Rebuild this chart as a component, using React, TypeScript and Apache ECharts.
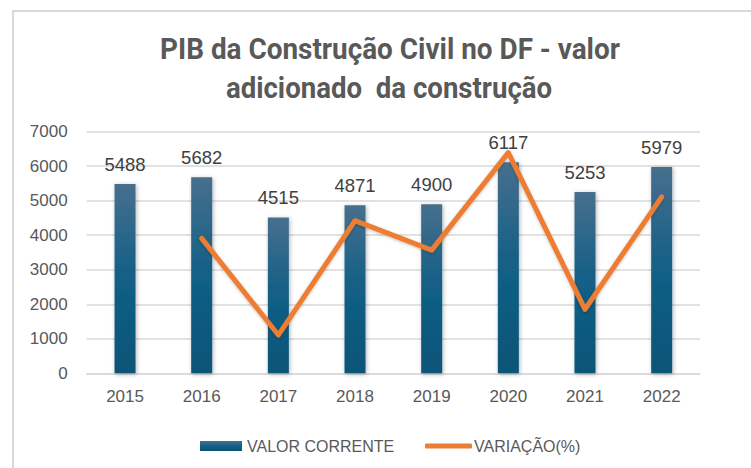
import React, { useEffect, useRef } from "react";
import * as echarts from "echarts";

const years = ["2015", "2016", "2017", "2018", "2019", "2020", "2021", "2022"];
const valorCorrente = [5488, 5682, 4515, 4871, 4900, 6117, 5253, 5979];
const variacao = [null, 3.5, -20.5, 7.9, 0.6, 24.8, -14.1, 13.8];
const titleLine1 = "PIB da Construção Civil no DF - valor";
const titleLine2 = "adicionado  da construção";

export default function App() {
  const ref = useRef<HTMLDivElement>(null);
  useEffect(() => {
    if (!ref.current) return;
    const chart = echarts.init(ref.current, undefined, { renderer: "svg" });
    const axisFont = "Liberation Sans, Arial, sans-serif";
    const titleFont = "bold 30px Roboto, sans-serif";
    chart.setOption({
      animation: false,
      backgroundColor: "#ffffff",
      graphic: [
        {
          type: "text",
          x: 390,
          y: 49,
          scaleX: 0.93,
          style: {
            text: titleLine1,
            font: titleFont,
            fill: "#595959",
            textAlign: "center",
            textVerticalAlign: "middle",
          },
        },
        {
          type: "text",
          x: 389,
          y: 88,
          scaleX: 0.92,
          style: {
            text: titleLine2,
            font: titleFont,
            fill: "#595959",
            textAlign: "center",
            textVerticalAlign: "middle",
          },
        },
      ],
      legend: [
        {
          data: [{ name: "VALOR CORRENTE", icon: "rect" }],
          left: 195,
          top: 433,
          itemWidth: 42,
          itemHeight: 10,
          textStyle: { fontFamily: axisFont, fontSize: 16, color: "#595959" },
        },
        {
          data: [{ name: "VARIAÇÃO(%)", icon: "roundRect" }],
          left: 420,
          top: 433,
          itemWidth: 47,
          itemHeight: 5,
          itemGap: 2,
          textStyle: { fontFamily: axisFont, fontSize: 16, color: "#595959", padding: [0, 0, 0, -3] },
        },
      ],
      grid: { left: 86.7, right: 51, top: 131.7, bottom: 94.7 },
      xAxis: {
        type: "category",
        data: years,
        axisLine: { lineStyle: { color: "#d9d9d9", width: 1.5 } },
        axisTick: { show: false },
        axisLabel: { fontFamily: axisFont, fontSize: 17, color: "#595959", margin: 15 },
      },
      yAxis: [
        {
          type: "value",
          min: 0,
          max: 7000,
          interval: 1000,
          axisLine: { show: false },
          axisTick: { show: false },
          splitLine: { lineStyle: { color: "#d9d9d9", width: 1.5 } },
          axisLabel: {
            fontFamily: axisFont,
            fontSize: 17,
            color: "#595959",
            margin: 19,
            formatter: (v: number) => String(v),
          },
        },
        {
          type: "value",
          min: -30,
          max: 30,
          show: false,
          splitLine: { show: false },
        },
      ],
      series: [
        {
          name: "VALOR CORRENTE",
          type: "bar",
          data: valorCorrente,
          barWidth: 21,
          itemStyle: {
            color: {
              type: "linear",
              x: 0,
              y: 0,
              x2: 0,
              y2: 1,
              colorStops: [
                { offset: 0, color: "#476f8d" },
                { offset: 0.5, color: "#125f86" },
                { offset: 1, color: "#0b5477" },
              ],
            },
            shadowBlur: 4,
            shadowColor: "rgba(0,0,0,0.3)",
            shadowOffsetX: 1,
            shadowOffsetY: 1,
          },
          label: {
            show: true,
            position: "top",
            distance: 10,
            fontFamily: axisFont,
            fontSize: 18.5,
            color: "#404040",
          },
        },
        {
          name: "VARIAÇÃO(%)",
          type: "line",
          yAxisIndex: 1,
          data: variacao,
          showSymbol: false,
          symbol: "none",
          lineStyle: {
            color: "#ed7d31",
            width: 5,
            cap: "round",
            join: "round",
            shadowBlur: 3,
            shadowColor: "rgba(0,0,0,0.25)",
            shadowOffsetY: 1,
          },
          itemStyle: { color: "#ed7d31" },
        },
      ],
    });
    return () => chart.dispose();
  }, []);
  return (
    <div style={{ position: "absolute", left: 0, top: 0, width: 751, height: 468, background: "#fff" }}>
      <div ref={ref} style={{ position: "absolute", left: 0, top: 0, width: 751, height: 468 }} />
      <div
        style={{
          position: "absolute",
          left: 12,
          top: 10,
          width: 760,
          height: 470,
          borderLeft: "2px solid #d9d9d9",
          borderTop: "2px solid #d9d9d9",
          pointerEvents: "none",
        }}
      />
    </div>
  );
}
